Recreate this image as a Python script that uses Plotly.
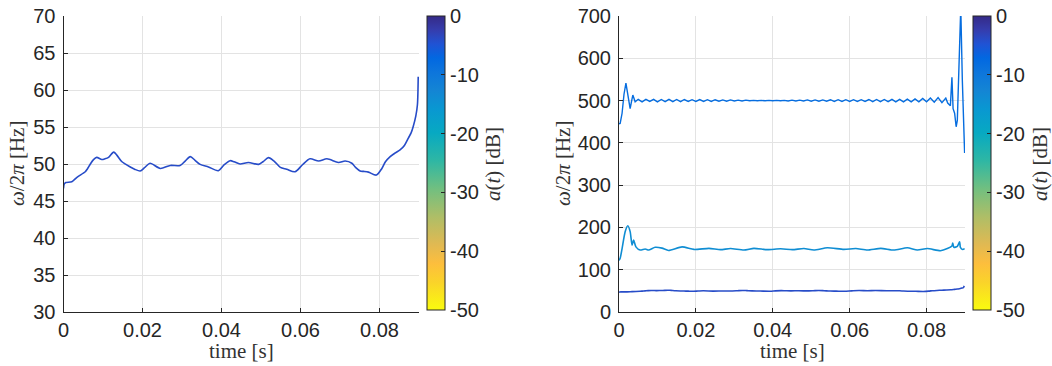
import plotly.graph_objects as go
from plotly.colors import sample_colorscale

# ---------------- data ----------------
# fundamental component (~50 Hz) - shown alone in left panel and in right panel
t_low = [0.0, 0.0002, 0.0006, 0.0021, 0.0034, 0.0055, 0.0060, 0.0068, 0.0076, 0.0084,
         0.0097, 0.0105, 0.0114, 0.0127, 0.0135, 0.0148, 0.0169, 0.0180, 0.0194, 0.0205,
         0.0219, 0.0245, 0.0270, 0.0295, 0.0308, 0.0321, 0.0333, 0.0346, 0.0367, 0.0392,
         0.0407, 0.0422, 0.0432, 0.0447, 0.0468, 0.0494, 0.0505, 0.0519, 0.0533, 0.0549,
         0.0565, 0.0586, 0.0605, 0.0624, 0.0646, 0.0667, 0.0696, 0.0713, 0.0730, 0.0740,
         0.0751, 0.0760, 0.0772, 0.0792, 0.0806, 0.0815, 0.0827, 0.0840, 0.0852, 0.0863,
         0.0873, 0.0880, 0.0885, 0.0892, 0.0896, 0.0898]
f_low = [46.7, 47.3, 47.5, 47.6, 48.2, 48.95, 49.3, 50.0, 50.6, 50.9,
         50.6, 50.7, 50.9, 51.6, 51.2, 50.3, 49.6, 49.3, 49.05, 49.5,
         50.1, 49.4, 49.8, 49.8, 50.4, 51.0, 50.5, 49.95, 49.6, 49.1,
         49.9, 50.45, 50.3, 50.0, 50.2, 49.95, 50.3, 50.86, 50.4, 49.55,
         49.3, 48.95, 49.9, 50.7, 50.4, 50.7, 50.2, 50.4, 50.1, 49.5,
         49.05, 49.0, 48.9, 48.5, 49.4, 50.3, 51.0, 51.5, 51.9, 52.5,
         53.5, 54.2, 55.0, 56.5, 58.0, 61.8]

# third component (~150 Hz)
t_mid = [0.0, 0.0003, 0.0008, 0.0016, 0.0023, 0.0029, 0.0034, 0.0038, 0.0044, 0.0055,
         0.0068, 0.0077, 0.0094, 0.0112, 0.0129, 0.0164, 0.0195, 0.0234, 0.0264, 0.0290,
         0.0325, 0.0351, 0.0386, 0.0420, 0.0451, 0.0481, 0.0507, 0.0542, 0.0585, 0.0616,
         0.0646, 0.0681, 0.0715, 0.0750, 0.0776, 0.0802, 0.0836, 0.0854, 0.0866, 0.0868,
         0.0871, 0.0880, 0.0886, 0.0888, 0.0894, 0.0899]
f_mid = [122, 127, 150, 190, 204, 190, 158, 170, 154, 146.5,
         149, 146.5, 153, 151, 145.5, 154, 148, 150.5, 147.5, 150,
         146.5, 150.5, 147.5, 149.5, 147.5, 150, 146.5, 152, 148, 150,
         146.5, 150.5, 146.5, 152, 146.5, 150, 145, 150, 156, 163,
         153, 155, 166, 153, 148, 150]

# fifth component (~500 Hz)
t_high = [0.0, 0.0003, 0.0008, 0.0013, 0.0018, 0.0023, 0.0029, 0.0033, 0.0036, 0.0042,
          0.005, 0.006, 0.007, 0.008, 0.009, 0.010, 0.011, 0.012, 0.013, 0.014,
          0.015, 0.016, 0.017, 0.018, 0.019, 0.020, 0.021, 0.022, 0.023, 0.024,
          0.025, 0.026, 0.027, 0.028, 0.029, 0.030, 0.031, 0.032, 0.033, 0.034,
          0.035, 0.036, 0.037, 0.038, 0.039, 0.040, 0.041, 0.042, 0.043, 0.044,
          0.045, 0.046, 0.047, 0.048, 0.049, 0.050, 0.051, 0.052, 0.053, 0.054,
          0.055, 0.056, 0.057, 0.058, 0.059, 0.060, 0.061, 0.062, 0.063, 0.064,
          0.065, 0.066, 0.067, 0.068, 0.069, 0.070, 0.071, 0.072, 0.073, 0.074,
          0.075, 0.076, 0.077, 0.078, 0.079, 0.080, 0.081, 0.082, 0.083, 0.084,
          0.085, 0.0855, 0.0862, 0.0866, 0.0869, 0.0873, 0.0877, 0.0880, 0.0884, 0.0887,
          0.0889, 0.0893, 0.0896, 0.0899]
f_high = [445, 446, 470, 515, 541, 515, 481, 500, 513, 497,
          503, 497, 503, 498, 503, 497, 502.5, 497.5, 503, 497.5,
          502.5, 497.5, 502.5, 498, 502, 498, 502.5, 498, 502, 498,
          502, 498.5, 501.5, 498.5, 501.5, 499, 501, 499, 501, 499.5,
          500.5, 499.5, 500.5, 499.5, 500.5, 499.5, 500.5, 499.5, 500.5, 499,
          501, 499, 501, 499, 501.5, 498.5, 501.5, 498.5, 501.5, 498.5,
          502, 498, 502, 498, 502, 498, 502, 498, 502, 498,
          502.5, 497.5, 502.5, 497.5, 502.5, 497.5, 503, 497, 503, 497,
          503.5, 497, 504, 497, 505, 497, 506, 496, 507, 495,
          506, 494, 488, 555, 481, 470, 438, 453, 600, 720,
          720, 550, 450, 376]

# amplitude of each component in dB (sets line colour via the colour scale)
amp_low_db = -4
amp_mid_db = -14
amp_high_db = -8

x_tickvals = [0, 0.02, 0.04, 0.06, 0.08]
x_ticktext = ["0", "0.02", "0.04", "0.06", "0.08"]
y1_tickvals = [30, 35, 40, 45, 50, 55, 60, 65, 70]
y2_tickvals = [0, 100, 200, 300, 400, 500, 600, 700]
cb_tickvals = [0, -10, -20, -30, -40, -50]
cb_ticktext = ["0", "-10", "-20", "-30", "-40", "-50"]

# ---------------- styling ----------------
W, H = 1052, 366
ML, MR, MT, MB = 60, 56, 16, 54
PW, PH = W - ML - MR, H - MT - MB

parula = [
    (1, (0.2081, 0.1663, 0.5292)), (4, (0.2081, 0.2386, 0.6771)), (7, (0.1253, 0.3242, 0.8303)),
    (10, (0.0060, 0.4086, 0.8828)), (13, (0.0498, 0.4586, 0.8641)), (17, (0.0793, 0.5200, 0.8312)),
    (21, (0.0343, 0.5966, 0.8199)), (26, (0.0267, 0.6642, 0.7607)), (32, (0.1801, 0.7177, 0.6424)),
    (38, (0.4420, 0.7481, 0.5033)), (44, (0.6834, 0.7435, 0.4044)), (50, (0.8824, 0.7274, 0.3217)),
    (54, (0.9938, 0.7455, 0.2403)), (58, (0.9789, 0.8271, 0.1633)), (64, (0.9763, 0.9831, 0.0538)),
]
# reversed: 0 dB (top) dark blue, -50 dB (bottom) yellow
cscale = sorted(
    [[1 - (i - 1) / 63, "rgb(%d,%d,%d)" % tuple(round(c * 255) for c in rgb)] for i, rgb in parula],
    key=lambda s: s[0])
CMIN, CMAX = -50, 0


def db_color(db):
    return sample_colorscale(cscale, [(db - CMIN) / (CMAX - CMIN)])[0]


def px_x(px):  # window pixel -> paper fraction
    return (px - ML) / PW


def px_y(py):
    return 1 - (py - MT) / PH


TICKFONT = dict(family="Liberation Sans, Arial, sans-serif", size=20, color="#262626")
TITLEFONT = dict(family="Liberation Serif, Times New Roman, serif", size=21, color="#333333")
GRID = "#e3e3e3"
AX = "#262626"

top_px, bot_px = 16, 312
ydom = [px_y(bot_px), px_y(top_px)]
x1dom = [px_x(63.5), px_x(419)]
x2dom = [px_x(619), px_x(965)]

fig = go.Figure()

fig.add_trace(go.Scatter(x=t_low, y=f_low, mode="lines", xaxis="x", yaxis="y",
                         line=dict(color=db_color(amp_low_db), width=1.6, shape="spline", smoothing=0.8),
                         showlegend=False, hoverinfo="skip"))
fig.add_trace(go.Scatter(x=t_low, y=f_low, mode="lines", xaxis="x2", yaxis="y2",
                         line=dict(color=db_color(amp_low_db), width=1.6, shape="spline", smoothing=0.8),
                         showlegend=False, hoverinfo="skip"))
fig.add_trace(go.Scatter(x=t_mid, y=f_mid, mode="lines", xaxis="x2", yaxis="y2",
                         line=dict(color=db_color(amp_mid_db), width=1.6, shape="spline", smoothing=0.6),
                         showlegend=False, hoverinfo="skip"))
fig.add_trace(go.Scatter(x=t_high, y=f_high, mode="lines", xaxis="x2", yaxis="y2",
                         line=dict(color=db_color(amp_high_db), width=1.4),
                         showlegend=False, hoverinfo="skip"))

# invisible traces that carry the colour bars
fig.add_trace(go.Scatter(x=[None], y=[None], mode="markers", xaxis="x", yaxis="y",
                         marker=dict(color=[CMIN], coloraxis="coloraxis"), showlegend=False))
fig.add_trace(go.Scatter(x=[None], y=[None], mode="markers", xaxis="x2", yaxis="y2",
                         marker=dict(color=[CMIN], coloraxis="coloraxis2"), showlegend=False))


def cbar(xpx):
    return dict(x=px_x(xpx), xanchor="left", xpad=0, y=px_y(top_px), yanchor="top", ypad=0,
                len=294, lenmode="pixels", thickness=18, thicknessmode="pixels",
                outlinewidth=1, outlinecolor=AX, ticks="inside", ticklen=4, tickcolor=AX,
                tickvals=cb_tickvals, ticktext=cb_ticktext, tickfont=TICKFONT)


xaxis_common = dict(range=[0, 0.09], tickvals=x_tickvals, ticktext=x_ticktext, showgrid=True,
                    gridcolor=GRID, gridwidth=1, showline=True, linecolor=AX, linewidth=1,
                    ticks="inside", ticklen=4, tickcolor=AX, tickfont=TICKFONT, zeroline=False,
                    ticklabelstandoff=0, automargin=False)
yaxis_common = dict(showgrid=True, gridcolor=GRID, gridwidth=1, showline=True, linecolor=AX,
                    linewidth=1, ticks="inside", ticklen=4, tickcolor=AX, tickfont=TICKFONT,
                    zeroline=False, ticklabelstandoff=3, automargin=False)

fig.update_layout(
    width=W, height=H, margin=dict(l=ML, r=MR, t=MT, b=MB, autoexpand=False),
    paper_bgcolor="white", plot_bgcolor="white", showlegend=False,
    xaxis=dict(domain=x1dom, anchor="y", **xaxis_common),
    yaxis=dict(domain=ydom, anchor="x", range=[30, 70], tickvals=y1_tickvals, **yaxis_common),
    xaxis2=dict(domain=x2dom, anchor="y2", **xaxis_common),
    yaxis2=dict(domain=ydom, anchor="x2", range=[0, 700], tickvals=y2_tickvals, **yaxis_common),
    coloraxis=dict(cmin=CMIN, cmax=CMAX, colorscale=cscale, colorbar=cbar(427)),
    coloraxis2=dict(cmin=CMIN, cmax=CMAX, colorscale=cscale, colorbar=cbar(973)),
)

ylab = "<i>ω</i>/2<i>π</i> [Hz]"
clab = "<i>a</i>(<i>t</i>) [dB]"
ann = [
    (241, 351, "time [s]", 0),
    (792, 351, "time [s]", 0),
    (17, 164, ylab, -90),
    (563, 164, ylab, -90),
    (493, 164, clab, -90),
    (1040, 164, clab, -90),
]
for xp, yp, txt, ang in ann:
    fig.add_annotation(x=px_x(xp), y=px_y(yp), xref="paper", yref="paper", text=txt,
                       showarrow=False, textangle=ang, font=TITLEFONT,
                       xanchor="center", yanchor="middle")

# remove the browser's default page margin so the figure sits at the window corner
fig.write_html("out.html", config={"displayModeBar": False, "staticPlot": True},
               post_script="document.body.style.margin='0';")
